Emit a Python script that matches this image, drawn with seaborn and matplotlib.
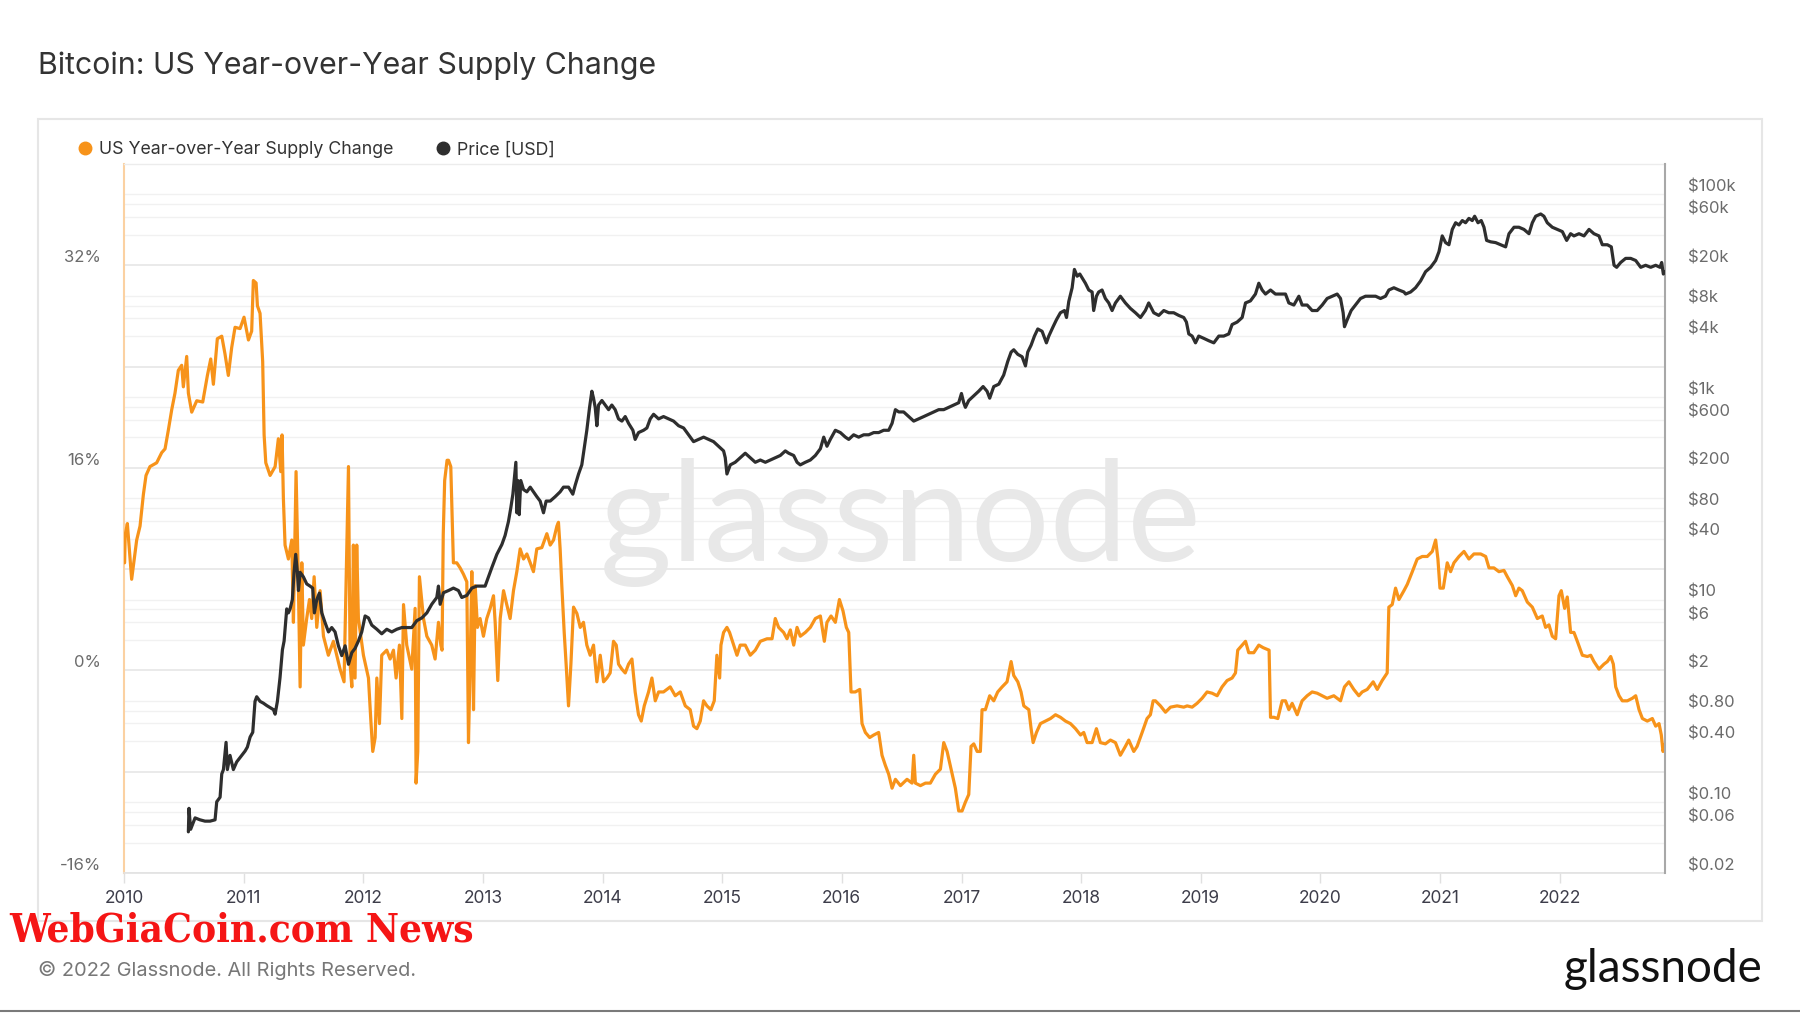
import matplotlib.pyplot as plt
import matplotlib.dates as mdates
import numpy as np
import pandas as pd
import seaborn as sns
from matplotlib import ticker
from matplotlib.lines import Line2D
from matplotlib.patches import Rectangle
from matplotlib.transforms import ScaledTranslation

# ---- data (decimal years) ----
supply_t = [
    2010.005, 2010.010, 2010.028, 2010.064, 2010.106, 2010.134, 2010.162, 2010.184, 2010.217, 2010.273, 2010.315,
    2010.343, 2010.371, 2010.399, 2010.426, 2010.454, 2010.482, 2010.496, 2010.524, 2010.538, 2010.566, 2010.608,
    2010.658, 2010.697, 2010.725, 2010.747, 2010.780, 2010.817, 2010.844, 2010.872, 2010.900, 2010.928, 2010.970,
    2011.003, 2011.040, 2011.067, 2011.081, 2011.104, 2011.115, 2011.137, 2011.159, 2011.171, 2011.185, 2011.221,
    2011.263, 2011.290, 2011.310, 2011.321, 2011.332, 2011.346, 2011.374, 2011.402, 2011.416, 2011.438, 2011.457,
    2011.472, 2011.486, 2011.499, 2011.527, 2011.550, 2011.569, 2011.589, 2011.611, 2011.639, 2011.667, 2011.708,
    2011.750, 2011.806, 2011.839, 2011.876, 2011.890, 2011.904, 2011.917, 2011.931, 2011.945, 2011.959,
    2012.001, 2012.043, 2012.062, 2012.079, 2012.099, 2012.113, 2012.135, 2012.154, 2012.196, 2012.224, 2012.252,
    2012.274, 2012.302, 2012.322, 2012.336, 2012.363, 2012.405, 2012.433, 2012.441, 2012.455, 2012.469, 2012.503,
    2012.531, 2012.572, 2012.600, 2012.628, 2012.648, 2012.658, 2012.668, 2012.680, 2012.700, 2012.712, 2012.731,
    2012.753, 2012.781, 2012.809, 2012.837, 2012.865, 2012.879, 2012.893, 2012.907, 2012.921, 2012.935, 2012.954,
    2012.976,
    2013.004, 2013.032, 2013.060, 2013.088, 2013.102, 2013.124, 2013.144, 2013.172, 2013.199, 2013.227, 2013.255,
    2013.283, 2013.311, 2013.339, 2013.367, 2013.395, 2013.422, 2013.450, 2013.492, 2013.534, 2013.562, 2013.590,
    2013.618, 2013.631, 2013.645, 2013.659, 2013.679, 2013.695, 2013.715, 2013.735, 2013.757, 2013.785, 2013.813,
    2013.840, 2013.868, 2013.896, 2013.924, 2013.952, 2013.980,
    2014.008, 2014.036, 2014.063, 2014.091, 2014.114, 2014.133, 2014.161, 2014.189, 2014.217, 2014.245, 2014.272,
    2014.300, 2014.323, 2014.348, 2014.384, 2014.412, 2014.440, 2014.468, 2014.509, 2014.565, 2014.607, 2014.649,
    2014.691, 2014.732, 2014.760, 2014.788, 2014.816, 2014.844, 2014.872, 2014.905, 2014.933, 2014.955, 2014.978,
    2014.989,
    2015.011, 2015.039, 2015.061, 2015.095, 2015.123, 2015.150, 2015.192, 2015.234, 2015.276, 2015.318, 2015.374,
    2015.416, 2015.443, 2015.471, 2015.513, 2015.541, 2015.569, 2015.597, 2015.625, 2015.652, 2015.694, 2015.736,
    2015.778, 2015.820, 2015.853, 2015.875, 2015.909, 2015.945, 2015.979,
    2016.009, 2016.037, 2016.057, 2016.076, 2016.112, 2016.149, 2016.168, 2016.196, 2016.232, 2016.266, 2016.307,
    2016.335, 2016.363, 2016.391, 2016.419, 2016.447, 2016.489, 2016.544, 2016.586, 2016.600, 2016.614, 2016.656,
    2016.698, 2016.739, 2016.781, 2016.823, 2016.851, 2016.879, 2016.912, 2016.948, 2016.976,
    2017.004, 2017.032, 2017.060, 2017.079, 2017.102, 2017.130, 2017.157, 2017.171, 2017.199, 2017.235, 2017.269,
    2017.302, 2017.339, 2017.380, 2017.414, 2017.436, 2017.470, 2017.497, 2017.520, 2017.562, 2017.581, 2017.598,
    2017.626, 2017.659, 2017.701, 2017.743, 2017.785, 2017.826, 2017.868, 2017.910, 2017.952, 2017.994,
    2018.021, 2018.049, 2018.091, 2018.127, 2018.160, 2018.202, 2018.244, 2018.286, 2018.327, 2018.369, 2018.397,
    2018.439, 2018.467, 2018.509, 2018.550, 2018.578, 2018.601, 2018.620, 2018.662, 2018.704, 2018.746, 2018.801,
    2018.857, 2018.885, 2018.927, 2018.968,
    2019.010, 2019.052, 2019.094, 2019.136, 2019.177, 2019.219, 2019.261, 2019.289, 2019.308, 2019.345, 2019.373,
    2019.400, 2019.442, 2019.484, 2019.520, 2019.570, 2019.582, 2019.610, 2019.643, 2019.679, 2019.707, 2019.735,
    2019.763, 2019.805, 2019.846, 2019.888, 2019.930, 2019.972,
    2020.014, 2020.055, 2020.111, 2020.167, 2020.200, 2020.237, 2020.278, 2020.320, 2020.348, 2020.390, 2020.440,
    2020.474, 2020.515, 2020.557, 2020.571, 2020.599, 2020.627, 2020.655, 2020.697, 2020.725, 2020.767, 2020.808,
    2020.850, 2020.892, 2020.934, 2020.962, 2020.981, 2020.998,
    2021.026, 2021.059, 2021.087, 2021.115, 2021.157, 2021.199, 2021.240, 2021.282, 2021.338, 2021.380, 2021.408,
    2021.449, 2021.491, 2021.533, 2021.561, 2021.603, 2021.631, 2021.658, 2021.686, 2021.728, 2021.770, 2021.812,
    2021.853, 2021.881, 2021.909, 2021.937, 2021.965, 2021.993,
    2022.012, 2022.040, 2022.062, 2022.090, 2022.118, 2022.146, 2022.188, 2022.230, 2022.258, 2022.285, 2022.327,
    2022.369, 2022.397, 2022.425, 2022.447, 2022.467, 2022.495, 2022.522, 2022.564, 2022.606, 2022.634, 2022.662,
    2022.690, 2022.731, 2022.773, 2022.801, 2022.829, 2022.848, 2022.862, 2022.879,
]
supply_pct = [
    8.5, 10.7, 11.6, 7.2, 10.3, 11.4, 13.9, 15.4, 16.1, 16.4, 17.2,
    17.5, 19.0, 20.6, 21.9, 23.7, 24.1, 22.4, 24.8, 21.9, 20.4, 21.3,
    21.2, 23.3, 24.6, 22.6, 26.2, 26.4, 25.0, 23.3, 25.5, 27.1, 27.0,
    27.9, 26.1, 26.8, 30.8, 30.6, 28.8, 28.2, 24.4, 18.6, 16.4, 15.4,
    16.1, 18.3, 15.7, 18.6, 13.6, 9.9, 8.8, 10.3, 3.8, 15.7, 7.0,
    -1.3, 8.5, 2.0, 4.1, 5.6, 4.1, 7.4, 3.4, 6.3, 2.7, 1.2,
    2.3, 0.1, -0.9, 16.1, 0.5, -1.3, 9.9, -0.6, 9.9, 4.1,
    1.2, -0.6, -3.8, -6.4, -5.3, -0.6, -4.2, 1.2, 1.6, 0.9, 1.6,
    -0.6, 2.0, -3.8, 5.2, 2.0, 0.1, 4.9, -8.9, -6.4, 7.4, 4.1,
    2.7, 2.0, 0.9, 3.8, 2.0, 1.6, 10.7, 15.0, 16.6, 16.6, 16.1,
    8.5, 8.5, 8.1, 7.6, 7.0, -5.7, 0.5, 7.8, -3.1, 6.7, 3.4,
    4.1,
    2.7, 4.1, 4.9, 5.9, 3.8, -0.8, 4.1, 6.3, 5.2, 4.1, 6.3,
    7.8, 9.6, 8.8, 9.2, 8.5, 7.8, 9.6, 9.7, 10.8, 9.9, 10.3,
    11.4, 11.7, 9.6, 6.7, 3.0, 0.5, -2.8, 0.5, 5.0, 4.5, 3.4,
    3.8, 2.0, 1.2, 2.0, -0.9, 1.2,
    -0.9, -0.6, -0.2, 2.3, 2.0, 0.5, 0.1, -0.2, 0.5, 0.9, -1.7,
    -3.5, -4.0, -2.8, -1.7, -0.6, -2.4, -1.7, -1.7, -1.3, -2.0, -1.7,
    -2.8, -3.1, -4.4, -4.6, -4.0, -2.4, -2.8, -3.1, -2.4, 1.2, -0.6,
    2.0,
    3.0, 3.4, 3.0, 2.0, 1.2, 2.0, 2.0, 1.2, 1.6, 2.3, 2.5,
    2.5, 4.1, 3.4, 3.0, 2.5, 3.2, 2.0, 3.4, 2.7, 3.0, 3.4,
    4.1, 4.3, 2.3, 3.8, 4.3, 3.8, 5.6,
    4.7, 3.4, 3.0, -1.7, -1.7, -1.5, -4.2, -4.9, -5.3, -5.1, -4.9,
    -6.7, -7.5, -8.2, -9.3, -8.6, -9.1, -8.6, -8.9, -6.7, -8.9, -9.1,
    -8.9, -8.9, -8.2, -7.8, -5.7, -6.4, -7.8, -9.3, -11.1,
    -11.1, -10.4, -9.8, -6.0, -5.8, -6.4, -6.4, -3.1, -3.1, -2.0, -2.4,
    -1.7, -1.3, -0.9, 0.7, -0.4, -0.9, -1.7, -2.8, -3.1, -4.6, -5.7,
    -4.9, -4.2, -4.0, -3.8, -3.5, -3.7, -4.0, -4.2, -4.6, -5.1,
    -4.9, -5.7, -5.7, -4.6, -5.7, -5.8, -5.5, -5.7, -6.7, -6.0, -5.5,
    -6.4, -6.0, -4.9, -3.8, -3.5, -2.4, -2.4, -2.8, -3.3, -2.9, -2.8,
    -2.9, -2.8, -2.9, -2.6,
    -2.2, -1.7, -1.8, -2.0, -1.3, -0.8, -0.6, -0.2, 1.6, 2.0, 2.3,
    1.4, 1.4, 2.0, 1.8, 1.6, -3.7, -3.7, -3.8, -2.4, -2.4, -3.1,
    -2.6, -3.5, -2.4, -2.0, -1.7, -1.8,
    -2.0, -2.2, -2.0, -2.4, -1.3, -0.9, -1.5, -2.0, -1.7, -1.5, -0.9,
    -1.5, -0.8, -0.2, 5.0, 5.2, 6.5, 5.6, 6.3, 6.8, 7.8, 8.8,
    9.0, 9.0, 9.4, 10.3, 8.8, 6.5,
    6.5, 8.5, 7.8, 8.5, 9.0, 9.4, 8.8, 9.2, 9.2, 9.0, 8.1,
    8.1, 7.8, 7.9, 7.4, 6.7, 5.9, 6.5, 6.3, 5.4, 5.0, 4.1,
    4.3, 3.4, 3.6, 2.7, 2.5, 5.9,
    6.3, 4.9, 5.8, 3.0, 3.0, 2.3, 1.2, 1.1, 1.2, 0.7, 0.1,
    0.5, 0.7, 1.1, 0.5, -1.3, -2.0, -2.4, -2.4, -2.2, -2.0, -3.1,
    -3.8, -4.0, -3.8, -4.4, -4.2, -5.1, -6.4, -5.8,
]

price_t = [
    2010.538, 2010.543, 2010.557, 2010.594, 2010.635, 2010.677, 2010.719, 2010.761, 2010.775, 2010.803, 2010.817,
    2010.831, 2010.853, 2010.864, 2010.886, 2010.914, 2010.942, 2010.984,
    2011.012, 2011.031, 2011.054, 2011.076, 2011.095, 2011.109, 2011.137, 2011.165, 2011.193, 2011.221, 2011.249,
    2011.263, 2011.282, 2011.304, 2011.324, 2011.338, 2011.360, 2011.374, 2011.388, 2011.407, 2011.421, 2011.435,
    2011.449, 2011.458, 2011.472, 2011.499, 2011.527, 2011.555, 2011.577, 2011.591, 2011.611, 2011.633, 2011.653,
    2011.681, 2011.709, 2011.736, 2011.764, 2011.792, 2011.820, 2011.848, 2011.876, 2011.904, 2011.931, 2011.959,
    2011.987,
    2012.015, 2012.043, 2012.071, 2012.113, 2012.154, 2012.196, 2012.238, 2012.280, 2012.322, 2012.363, 2012.405,
    2012.447, 2012.489, 2012.531, 2012.572, 2012.614, 2012.628, 2012.642, 2012.670, 2012.712, 2012.753, 2012.795,
    2012.823, 2012.865, 2012.907, 2012.949, 2012.990,
    2013.018, 2013.046, 2013.074, 2013.116, 2013.158, 2013.185, 2013.213, 2013.233, 2013.250, 2013.261, 2013.275,
    2013.283, 2013.291, 2013.303, 2013.316, 2013.339, 2013.367, 2013.395, 2013.422, 2013.450, 2013.478, 2013.506,
    2013.528, 2013.562, 2013.604, 2013.645, 2013.673, 2013.715, 2013.751, 2013.771, 2013.799, 2013.826, 2013.846,
    2013.868, 2013.891, 2013.910, 2013.924, 2013.938, 2013.952, 2013.966, 2013.994,
    2014.022, 2014.050, 2014.077, 2014.105, 2014.133, 2014.161, 2014.189, 2014.217, 2014.253, 2014.272, 2014.300,
    2014.342, 2014.370, 2014.398, 2014.426, 2014.468, 2014.509, 2014.551, 2014.593, 2014.635, 2014.677, 2014.718,
    2014.760, 2014.802, 2014.844, 2014.886, 2014.927, 2014.969,
    2015.011, 2015.025, 2015.039, 2015.067, 2015.108, 2015.150, 2015.192, 2015.234, 2015.276, 2015.318, 2015.360,
    2015.402, 2015.443, 2015.485, 2015.527, 2015.555, 2015.597, 2015.625, 2015.652, 2015.694, 2015.736, 2015.778,
    2015.820, 2015.848, 2015.875, 2015.903, 2015.945, 2015.987,
    2016.029, 2016.057, 2016.098, 2016.140, 2016.182, 2016.224, 2016.266, 2016.307, 2016.349, 2016.391, 2016.419,
    2016.447, 2016.475, 2016.516, 2016.558, 2016.600, 2016.642, 2016.684, 2016.725, 2016.767, 2016.809, 2016.851,
    2016.893, 2016.935, 2016.976, 2016.999,
    2017.018, 2017.032, 2017.060, 2017.102, 2017.143, 2017.180, 2017.213, 2017.235, 2017.269, 2017.311, 2017.352,
    2017.386, 2017.414, 2017.436, 2017.470, 2017.506, 2017.534, 2017.553, 2017.581, 2017.609, 2017.637, 2017.673,
    2017.709, 2017.729, 2017.765, 2017.793, 2017.826, 2017.860, 2017.877, 2017.896, 2017.924, 2017.943, 2017.966,
    2017.988,
    2018.035, 2018.063, 2018.091, 2018.104, 2018.127, 2018.146, 2018.174, 2018.202, 2018.230, 2018.258, 2018.286,
    2018.327, 2018.369, 2018.411, 2018.453, 2018.495, 2018.536, 2018.564, 2018.606, 2018.648, 2018.690, 2018.732,
    2018.773, 2018.815, 2018.857, 2018.879, 2018.899, 2018.927, 2018.955, 2018.982,
    2019.024, 2019.066, 2019.108, 2019.150, 2019.191, 2019.233, 2019.261, 2019.303, 2019.345, 2019.373, 2019.414,
    2019.456, 2019.484, 2019.512, 2019.540, 2019.582, 2019.623, 2019.665, 2019.707, 2019.735, 2019.777, 2019.819,
    2019.846, 2019.888, 2019.930, 2019.972,
    2020.014, 2020.055, 2020.097, 2020.139, 2020.167, 2020.189, 2020.200, 2020.223, 2020.256, 2020.292, 2020.334,
    2020.376, 2020.418, 2020.460, 2020.501, 2020.543, 2020.571, 2020.613, 2020.655, 2020.697, 2020.711, 2020.753,
    2020.794, 2020.836, 2020.878, 2020.920, 2020.962, 2020.990,
    2021.017, 2021.045, 2021.073, 2021.101, 2021.129, 2021.157, 2021.185, 2021.212, 2021.240, 2021.268, 2021.288,
    2021.316, 2021.343, 2021.366, 2021.388, 2021.421, 2021.463, 2021.505, 2021.547, 2021.575, 2021.617, 2021.658,
    2021.700, 2021.742, 2021.770, 2021.798, 2021.840, 2021.867, 2021.895, 2021.937, 2021.979,
    2022.021, 2022.057, 2022.090, 2022.118, 2022.160, 2022.202, 2022.244, 2022.285, 2022.327, 2022.355, 2022.397,
    2022.430, 2022.453, 2022.475, 2022.508, 2022.550, 2022.592, 2022.634, 2022.676, 2022.717, 2022.759, 2022.801,
    2022.837, 2022.851, 2022.865, 2022.880,
]
price_usd = [
    0.051, 0.087, 0.054, 0.070, 0.067, 0.065, 0.065, 0.067, 0.101, 0.112, 0.19,
    0.21, 0.39, 0.21, 0.29, 0.21, 0.25, 0.29,
    0.32, 0.35, 0.44, 0.49, 0.99, 1.1, 0.99, 0.95, 0.90, 0.86, 0.82,
    0.74, 0.99, 1.7, 3.2, 3.9, 8.1, 7.4, 8.1, 10, 18.6, 28,
    18.6, 12.3, 18.6, 16.8, 14.3, 13.6, 13, 7.4, 10, 11.6, 7.4,
    5.9, 4.8, 5.3, 4.8, 3.5, 2.8, 3.5, 2.3, 3.0, 3.3, 3.9,
    4.8,
    6.9, 6.6, 5.6, 5.1, 4.6, 5.1, 4.8, 5.1, 5.3, 5.3, 5.3,
    6.2, 6.6, 7.4, 9.0, 10.5, 13.6, 9.0, 11.7, 12.3, 13, 12.3,
    10.5, 11, 13, 13.6, 13.6,
    13.6, 16.8, 20.7, 28, 35, 43, 59, 81, 110, 150, 227,
    72, 150, 69, 150, 122, 116, 129, 116, 104, 94, 72,
    94, 94, 104, 116, 129, 129, 110, 135, 174, 214, 309,
    470, 792, 1142, 975, 792, 521, 834, 925,
    834, 751, 834, 751, 609, 579, 642, 550, 470, 382, 446,
    470, 495, 609, 676, 609, 642, 609, 579, 521, 495, 424,
    363, 382, 402, 382, 363, 327,
    294, 252, 174, 214, 227, 252, 279, 252, 227, 239, 227,
    239, 252, 265, 294, 279, 265, 227, 214, 227, 239, 265,
    309, 402, 327, 382, 470, 446,
    402, 382, 424, 402, 424, 424, 446, 446, 470, 470, 550,
    751, 713, 713, 642, 579, 609, 642, 676, 713, 751, 751,
    792, 834, 879, 1085,
    879, 792, 925, 1030, 1142, 1270, 1142, 975, 1270, 1340, 1650,
    2250, 2780, 2930, 2640, 2500, 2030, 2780, 3250, 4000, 4700, 4460,
    3430, 4000, 4950, 5800, 6800, 7150, 6100, 8800, 12000, 18200, 15600,
    16400,
    13300, 11400, 10900, 7150, 9900, 10900, 11400, 9400, 8500, 7150, 8500,
    9900, 8500, 7500, 6800, 6100, 7150, 8500, 6800, 6400, 7150, 6800,
    6800, 6400, 6100, 5500, 4200, 4000, 3430, 4000,
    3800, 3600, 3430, 4000, 4000, 4200, 5200, 5500, 6100, 8500, 8900,
    10400, 13300, 11400, 10400, 11400, 10400, 10400, 10400, 8500, 8100, 9900,
    8100, 8100, 7150, 7150,
    8100, 9400, 9900, 10400, 9400, 6800, 4950, 5800, 7150, 8100, 9400,
    9900, 9900, 9900, 9400, 9900, 11400, 12000, 11400, 10900, 10400, 10900,
    12000, 14000, 17300, 19100, 22300, 27300,
    39000, 33500, 31900, 45200, 52600, 50000, 55300, 52600, 58100, 55300, 61000,
    52600, 55300, 47500, 35200, 34100, 33500, 31900, 30400, 41000, 47500, 47500,
    45200, 41000, 52600, 61000, 64200, 61000, 52600, 47500, 45200,
    43000, 35200, 41000, 39000, 41000, 39000, 45200, 41000, 39000, 31900, 31900,
    30400, 20000, 19100, 21300, 23400, 23400, 22300, 19100, 20000, 19100, 20000,
    19100, 21300, 16400, 17300,
]

pct_ticks = [-16, 0, 16, 32]
price_ticks = [0.02, 0.06, 0.1, 0.4, 0.8, 2, 6, 10, 40, 80, 200, 600, 1e3, 4e3, 8e3, 2e4, 6e4, 1e5]
price_labels = ["$0.02", "$0.06", "$0.10", "$0.40", "$0.80", "$2", "$6", "$10", "$40", "$80",
                "$200", "$600", "$1k", "$4k", "$8k", "$20k", "$60k", "$100k"]
grid_major = [0.02, 0.2, 2, 20, 200, 2e3, 2e4, 2e5]
grid_minor = [m * 10.0 ** k for k in range(-2, 5) for m in (4, 6, 8, 10)]

ORANGE = "#f7931a"
BLACK = "#2e2e2e"


def to_date(years):
    y = np.asarray(years, dtype=float)
    return pd.Timestamp("2010-01-01") + pd.to_timedelta((y - 2010) * 365.25, unit="D")


supply = pd.DataFrame({"date": to_date(supply_t), "pct": supply_pct})
price = pd.DataFrame({"date": to_date(price_t), "usd": price_usd})

sns.set_theme(style="white")
plt.rcParams["font.family"] = ["Inter", "DejaVu Sans"]

W, H = 1800, 1013
fig = plt.figure(figsize=(W / 100, H / 100), dpi=100)
L, R, B, T = 124 / W, 1665 / W, 1 - 873 / H, 1 - 164 / H
ax = fig.add_axes([L, B, R - L, T - B])
gax = ax.twinx()   # gridlines only, at the bottom
ax2 = ax.twinx()   # price axis, on top
gax.set_zorder(0)
ax.set_zorder(1)
ax2.set_zorder(2)
ax.patch.set_visible(False)

# grid (log price steps)
gax.set_yscale("log")
gax.set_ylim(0.02, 2e5)
gax.yaxis.set_major_locator(ticker.FixedLocator(grid_major))
gax.yaxis.set_minor_locator(ticker.FixedLocator(grid_minor))
gax.yaxis.set_major_formatter(ticker.NullFormatter())
gax.yaxis.set_minor_formatter(ticker.NullFormatter())
gax.tick_params(axis="y", which="both", length=0, labelright=False)
gax.grid(True, which="major", axis="y", color="#e4e4e4", lw=1.1)
gax.grid(True, which="minor", axis="y", color="#f1f1f1", lw=1.0)
for s in gax.spines.values():
    s.set_visible(False)

# watermark
ax.text(0.504, 0.495, "glassnode", transform=ax.transAxes, ha="center", va="center",
        fontsize=100, color="#e8e8e8", family="Lato", zorder=0)

sns.lineplot(data=supply, x="date", y="pct", ax=ax, color=ORANGE, lw=2.3,
             estimator=None, sort=False, errorbar=None, zorder=3)
sns.lineplot(data=price, x="date", y="usd", ax=ax2, color=BLACK, lw=2.3,
             estimator=None, sort=False, errorbar=None, zorder=3)

ax.set_xlim(pd.Timestamp("2010-01-01"), pd.Timestamp("2022-11-18"))
ax.set_ylim(-16, 40)
ax.set_xlabel("")
ax.set_ylabel("")
ax2.set_ylabel("")
ax.set_yticks(pct_ticks)
ax.yaxis.set_major_formatter(ticker.FuncFormatter(lambda v, pos: f"{v:.0f}%"))
ax.tick_params(axis="y", length=0, pad=16.5, labelsize=12, labelcolor="#6b6b6b")

ax2.set_yscale("log")
ax2.set_ylim(0.02, 2e5)
ax2.set_yticks(price_ticks, price_labels)
ax2.yaxis.set_minor_locator(ticker.NullLocator())
ax2.tick_params(axis="y", length=0, pad=16.5, labelsize=12, labelcolor="#6b6b6b")

ax.xaxis.set_major_locator(mdates.YearLocator())
ax.xaxis.set_major_formatter(mdates.DateFormatter("%Y"))
ax.tick_params(axis="x", bottom=True, length=7, width=1, color="#e0e0e0", pad=5,
               labelsize=12.5, labelcolor="#3d3d4a")

# y labels sit just above their grid line
lift = ScaledTranslation(0, 9 / 100, fig.dpi_scale_trans)
for t in ax.yaxis.get_major_ticks() + ax2.yaxis.get_major_ticks():
    t.label1.set_transform(t.label1.get_transform() + lift)
    t.label2.set_transform(t.label2.get_transform() + lift)

for a in (ax, ax2):
    for s in a.spines.values():
        s.set_visible(False)
ax.spines["left"].set_visible(True)
ax.spines["left"].set_color("#fbd1a2")
ax.spines["left"].set_linewidth(1.5)
ax.spines["bottom"].set_visible(True)
ax.spines["bottom"].set_color("#e2e2e2")
ax.spines["bottom"].set_linewidth(1.2)
ax.spines["top"].set_visible(True)
ax.spines["top"].set_color("#ececec")
ax.spines["top"].set_linewidth(1.0)
ax2.spines["right"].set_visible(True)
ax2.spines["right"].set_color("#a8a8a8")
ax2.spines["right"].set_linewidth(1.5)

# legend
handles = [Line2D([], [], marker="o", ls="none", color=ORANGE, markersize=9),
           Line2D([], [], marker="o", ls="none", color=BLACK, markersize=9)]
fig.legend(handles, ["US Year-over-Year Supply Change", "Price [USD]"],
           loc="center left", bbox_to_anchor=(78 / W, 1 - 150 / H), ncol=2, frameon=False,
           fontsize=12.8, labelcolor="#333333", handlelength=0.8, handletextpad=0.4,
           columnspacing=2.35, borderpad=0, borderaxespad=0)

# frame, titles, footer
fig.patches.append(Rectangle((38 / W, 1 - 921 / H), (1762 - 38) / W, (921 - 119) / H,
                             transform=fig.transFigure, fill=False, edgecolor="#e6e6e6", lw=1.5))
fig.lines.append(Line2D([0, 1], [1 - 1011 / H, 1 - 1011 / H], transform=fig.transFigure,
                        color="#7a7a7a", lw=1.5))
fig.text(38 / W, 1 - 66 / H, "Bitcoin: US Year-over-Year Supply Change", fontsize=21.8,
         color="#333333", ha="left", va="center")
fig.text(9 / W, 1 - 930 / H, "WebGiaCoin.com News", fontsize=29, fontweight="bold",
         color="#f51515", family="DejaVu Serif", fontstretch="condensed", ha="left", va="center")
fig.text(38 / W, 1 - 970 / H, "\u00a9 2022 Glassnode. All Rights Reserved.", fontsize=14.4,
         color="#777777", ha="left", va="center")
fig.text(1762 / W, 1 - 969 / H, "glassnode", fontsize=33, color="#111111", family="Lato",
         ha="right", va="center")

fig.savefig("out.png", dpi=100)
